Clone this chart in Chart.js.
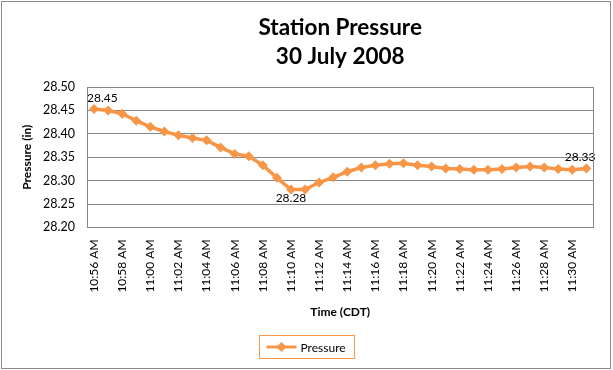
<!DOCTYPE html>
<html>
<head>
<meta charset="utf-8">
<script src="https://cdn.jsdelivr.net/npm/chart.js@4/dist/chart.umd.min.js"></script>
<style>
  html, body { margin: 0; padding: 0; background: #fff; }
  #wrap { width: 613px; height: 370px; }
</style>
</head>
<body>
<div id="wrap"><canvas id="pressureChart" width="613" height="370"></canvas></div>
<script>
// one reading per minute, 10:56 to 11:31 CDT
const times = [
  '10:56 AM', '10:57 AM', '10:58 AM', '10:59 AM', '11:00 AM', '11:01 AM',
  '11:02 AM', '11:03 AM', '11:04 AM', '11:05 AM', '11:06 AM', '11:07 AM',
  '11:08 AM', '11:09 AM', '11:10 AM', '11:11 AM', '11:12 AM', '11:13 AM',
  '11:14 AM', '11:15 AM', '11:16 AM', '11:17 AM', '11:18 AM', '11:19 AM',
  '11:20 AM', '11:21 AM', '11:22 AM', '11:23 AM', '11:24 AM', '11:25 AM',
  '11:26 AM', '11:27 AM', '11:28 AM', '11:29 AM', '11:30 AM', '11:31 AM'
];
const pressure = [
  28.453, 28.450, 28.443, 28.428, 28.415, 28.405,
  28.397, 28.391, 28.386, 28.371, 28.357, 28.352,
  28.333, 28.306, 28.281, 28.281, 28.296, 28.307,
  28.319, 28.328, 28.333, 28.336, 28.337, 28.333,
  28.330, 28.326, 28.325, 28.323, 28.323, 28.325,
  28.328, 28.330, 28.328, 28.325, 28.323, 28.326
];
const yTicks = [28.20, 28.25, 28.30, 28.35, 28.40, 28.45, 28.50];
const titleLines = ['Station Pressure', '30 July 2008'];
// which points carry a value label, and on which side
const labelledPoints = [0, 14, 35];
const labelSide = ['above', 'below', 'above'];

const orange = '#F79646';
const grey = '#868686';
const font = 'Lato, "Liberation Sans", sans-serif';

// white background, title over the plot area, borders
const framePlugin = {
  id: 'frame',
  beforeDraw(chart) {
    const c = chart.ctx;
    c.save();
    c.fillStyle = '#fff';
    c.fillRect(0, 0, chart.width, chart.height);
    c.restore();
  },
  afterDraw(chart) {
    const c = chart.ctx;
    const a = chart.chartArea;
    c.save();
    c.strokeStyle = grey;
    c.lineWidth = 1;
    c.strokeRect(Math.round(a.left) + 0.5, Math.round(a.top) + 0.5,
      Math.round(a.right - a.left), Math.round(a.bottom - a.top));
    c.strokeStyle = '#8c8c8c';
    c.strokeRect(1.5, 1.5, chart.width - 4, chart.height - 3);

    // title, centred on the plot area like Excel does
    c.fillStyle = '#000';
    c.font = 'bold 22.5px ' + font;
    c.textAlign = 'center';
    c.textBaseline = 'middle';
    const cx = (a.left + a.right) / 2;
    titleLines.forEach((t, i) => c.fillText(t, cx, 28 + i * 29));
    c.restore();
  }
};

// data labels on selected points
const valueLabels = {
  id: 'valueLabels',
  afterDatasetsDraw(chart) {
    const c = chart.ctx;
    const a = chart.chartArea;
    const meta = chart.getDatasetMeta(0);
    c.save();
    c.font = '12px ' + font;
    c.fillStyle = '#000';
    c.textAlign = 'center';
    c.textBaseline = 'middle';
    labelledPoints.forEach((idx, k) => {
      const pt = meta.data[idx];
      const txt = pressure[idx].toFixed(2);
      const w = c.measureText(txt).width;
      let x = Math.max(pt.x, a.left + w / 2);
      x = Math.min(x, a.right - w / 2 + 2);
      const y = labelSide[k] === 'above' ? pt.y - 11 : pt.y + 9;
      c.fillText(txt, x, y);
    });
    c.restore();
  }
};

// Excel style legend: box with line + diamond marker
const boxLegend = {
  id: 'boxLegend',
  afterDraw(chart) {
    const c = chart.ctx;
    c.save();
    c.font = '12px ' + font;
    const label = chart.data.datasets[0].label;
    const tw = c.measureText(label).width;
    const w = 40 + tw + 10;
    const h = 23;
    const x0 = Math.round(chart.width / 2 - w / 2) + 0.5;
    const y0 = 335.5;
    c.strokeStyle = orange;
    c.lineWidth = 1;
    c.strokeRect(x0, y0, w, h);
    const ly = y0 + h / 2;
    c.lineWidth = 3;
    c.beginPath();
    c.moveTo(x0 + 7, ly);
    c.lineTo(x0 + 37, ly);
    c.stroke();
    c.fillStyle = orange;
    c.beginPath();
    c.moveTo(x0 + 22, ly - 5);
    c.lineTo(x0 + 27, ly);
    c.lineTo(x0 + 22, ly + 5);
    c.lineTo(x0 + 17, ly);
    c.closePath();
    c.fill();
    c.fillStyle = '#000';
    c.textBaseline = 'middle';
    c.fillText(label, x0 + 41, ly + 1);
    c.restore();
  }
};

const ctx = document.getElementById('pressureChart').getContext('2d');
new Chart(ctx, {
  type: 'line',
  data: {
    labels: times,
    datasets: [{
      label: 'Pressure',
      data: pressure,
      borderColor: orange,
      backgroundColor: orange,
      borderWidth: 3.5,
      pointStyle: 'rectRot',
      pointRadius: 5,
      pointBorderWidth: 0,
      tension: 0,
      fill: false
    }]
  },
  options: {
    responsive: false,
    animation: false,
    layout: { padding: { left: 20, right: 15, top: 87, bottom: 51 } },
    plugins: {
      legend: { display: false },
      tooltip: { enabled: false },
      title: { display: false }
    },
    scales: {
      x: {
        offset: true,
        grid: { display: false, drawTicks: false },
        border: { color: grey },
        ticks: {
          autoSkip: false,
          maxRotation: 90,
          minRotation: 90,
          color: '#000',
          padding: 12,
          font: { family: font, size: 12 },
          callback: (v, i) => (i % 2 === 0 ? times[i] : '')
        },
        title: {
          display: true,
          text: 'Time (CDT)',
          color: '#000',
          font: { family: font, size: 12, weight: 'bold' },
          padding: { top: 0, bottom: 0 }
        }
      },
      y: {
        min: 28.2,
        max: 28.5,
        afterBuildTicks: (scale) => { scale.ticks = yTicks.map(v => ({ value: v })); },
        afterFit: (scale) => { scale.width = 67; },
        grid: { color: grey, drawTicks: false },
        border: { color: grey },
        ticks: {
          color: '#000',
          padding: 12,
          font: { family: font, size: 12.5 },
          callback: (v) => Number(v).toFixed(2)
        },
        title: {
          display: true,
          text: 'Pressure (in)',
          color: '#000',
          font: { family: font, size: 12, weight: 'bold' },
          padding: { top: 0, bottom: 1 }
        }
      }
    }
  },
  plugins: [framePlugin, valueLabels, boxLegend]
});
</script>
</body>
</html>
